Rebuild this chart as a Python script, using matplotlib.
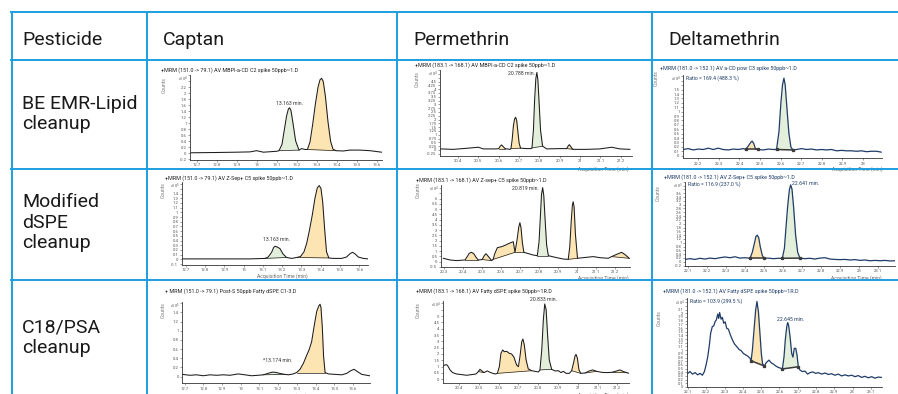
import numpy as np
import matplotlib.pyplot as plt
from matplotlib.lines import Line2D
from matplotlib.ticker import MultipleLocator, FuncFormatter

W, H, DPI = 898, 394, 100
plt.rcParams["font.family"] = ["Roboto", "DejaVu Sans"]

GRID_BLUE = "#1d9ee0"
FILL_GREEN = "#e3eedb"
FILL_ORANGE = "#fde4b3"
INK = "#1c1c1c"
NAVY = "#1f3c68"

COLUMN_LABELS = ["Pesticide", "Captan", "Permethrin", "Deltamethrin"]
ROW_LABELS = ["BE EMR-Lipid\ncleanup", "Modified\ndSPE\ncleanup", "C18/PSA\ncleanup"]

TITLES = [
    "+MRM (151.0 -> 79.1) AV MBPI-a-CD C2 spike 50ppb~1.D",
    "+MRM (183.1 -> 168.1) AV MBPI-a-CD C2 spike 50ppb~1.D",
    "+MRM (181.0 -> 152.1) AV a-CD pow C3 spike 50ppb~1.D",
    "+MRM (151.0 -> 79.1) AV Z-Sep+ C5 spike 50ppb~1.D",
    "+MRM (183.1 -> 168.1) AV Z-sep+ C5 spike 50ppb~1.D",
    "+MRM (181.0 -> 152.1) AV Z-Sep+ C5 spike 50ppb~1.D",
    "+ MRM (151.0 -> 79.1) Post-S 50ppb Fatty dSPE C1-3.D",
    "+MRM (183.1 -> 168.1) AV Fatty dSPE spike 50ppb~1R.D",
    "+MRM (181.0 -> 152.1) AV Fatty dSPE spike 50ppb~1R.D",
]

# ---- chromatogram traces: acquisition time (min) / counts -------------------
CAP_BE_T = [12.668, 12.798, 12.898, 12.965, 12.998, 13.032, 13.098, 13.110, 13.125, 13.137,
            13.148, 13.157, 13.163, 13.170, 13.180, 13.193, 13.210, 13.223, 13.240, 13.252,
            13.265, 13.278, 13.292, 13.305, 13.315, 13.323, 13.331, 13.342, 13.355, 13.368,
            13.380, 13.395, 13.432, 13.465, 13.515, 13.565, 13.623]
CAP_BE_Y = [0.02, 0.03, 0.04, 0.05, 0.09, 0.04, 0.07, 0.09, 0.30, 0.80,
            1.25, 1.48, 1.52, 1.42, 1.00, 0.42, 0.11, 0.16, 0.13, 0.13,
            0.38, 0.95, 1.65, 2.20, 2.45, 2.50, 2.40, 1.90, 1.05, 0.40,
            0.14, 0.09, 0.08, 0.11, 0.11, 0.09, 0.04]

PER_BE_T = [20.316, 20.378, 20.444, 20.501, 20.525, 20.591, 20.601, 20.608, 20.615, 20.623,
            20.632, 20.656, 20.661, 20.667, 20.673, 20.679, 20.684, 20.689, 20.695, 20.701,
            20.708, 20.738, 20.759, 20.764, 20.771, 20.777, 20.783, 20.788, 20.793, 20.799,
            20.806, 20.816, 20.836, 20.901, 20.934, 20.941, 20.947, 20.953, 20.960, 20.967,
            21.032, 21.097, 21.155, 21.195, 21.244]
PER_BE_Y = [0.07, 0.04, 0.11, 0.18, 0.07, 0.07, 0.09, 0.25, 0.33, 0.22,
            0.09, 0.04, 0.09, 0.70, 1.60, 2.05, 2.15, 1.95, 1.20, 0.45,
            0.12, 0.09, 0.09, 0.13, 1.30, 3.30, 4.70, 5.10, 4.60, 3.10,
            1.30, 0.25, 0.07, 0.09, 0.09, 0.25, 0.35, 0.25, 0.10, 0.04,
            0.04, 0.07, 0.18, 0.07, 0.04]

DEL_BE_T = [22.127, 22.151, 22.176, 22.200, 22.224, 22.249, 22.273, 22.297, 22.321, 22.346,
            22.370, 22.394, 22.418, 22.430, 22.443, 22.456, 22.462, 22.470, 22.478, 22.491,
            22.516, 22.540, 22.564, 22.580, 22.592, 22.601, 22.609, 22.616, 22.622, 22.630,
            22.640, 22.650, 22.660, 22.677, 22.702, 22.726, 22.750, 22.774, 22.799, 22.823,
            22.847, 22.872, 22.896, 22.920, 22.944, 22.969, 22.993, 23.017, 23.041, 23.066,
            23.088]
DEL_BE_Y = [0.14, 0.16, 0.13, 0.15, 0.14, 0.17, 0.14, 0.17, 0.14, 0.13,
            0.15, 0.14, 0.16, 0.14, 0.22, 0.31, 0.33, 0.27, 0.15, 0.14,
            0.13, 0.15, 0.14, 0.14, 0.55, 1.19, 1.61, 1.76, 1.61, 1.11,
            0.51, 0.19, 0.13, 0.14, 0.16, 0.14, 0.15, 0.13, 0.14, 0.13,
            0.14, 0.11, 0.12, 0.11, 0.11, 0.10, 0.11, 0.09, 0.10, 0.10,
            0.08]

CAP_MOD_T = [12.678, 12.773, 12.859, 12.946, 13.032, 13.110, 13.127, 13.145, 13.155, 13.163,
             13.175, 13.188, 13.205, 13.223, 13.249, 13.275, 13.295, 13.313, 13.327, 13.340,
             13.356, 13.370, 13.382, 13.392, 13.401, 13.410, 13.420, 13.430, 13.442, 13.465,
             13.508, 13.534, 13.552, 13.565, 13.577, 13.595, 13.621, 13.645]
CAP_MOD_Y = [0.01, 0.01, 0.01, 0.01, 0.01, 0.02, 0.05, 0.15, 0.25, 0.28,
             0.26, 0.23, 0.11, 0.04, 0.02, 0.04, 0.06, 0.16, 0.34, 0.59,
             0.94, 1.30, 1.52, 1.57, 1.51, 1.23, 0.66, 0.16, 0.03, 0.02,
             0.02, 0.05, 0.12, 0.15, 0.12, 0.05, 0.02, 0.01]

PER_MOD_T = [20.295, 20.330, 20.365, 20.409, 20.420, 20.432, 20.444, 20.456, 20.468, 20.479,
             20.500, 20.510, 20.520, 20.532, 20.550, 20.558, 20.566, 20.580, 20.603, 20.625,
             20.638, 20.655, 20.664, 20.673, 20.685, 20.693, 20.699, 20.705, 20.712, 20.720,
             20.769, 20.791, 20.800, 20.807, 20.813, 20.819, 20.825, 20.832, 20.840, 20.849,
             20.893, 20.928, 20.954, 20.962, 20.970, 20.976, 20.980, 20.985, 20.992, 21.003,
             21.033, 21.086, 21.121, 21.165, 21.183, 21.210, 21.236, 21.255, 21.276]
PER_MOD_Y = [0.32, 0.16, 0.10, 0.16, 0.45, 0.80, 0.89, 0.75, 0.40, 0.16,
             0.20, 0.55, 0.76, 0.50, 0.10, 0.22, 0.75, 1.33, 1.43, 1.59,
             1.71, 1.84, 1.90, 0.89, 2.20, 3.30, 3.71, 3.20, 1.80, 0.89,
             0.63, 0.57, 1.90, 4.30, 6.40, 7.05, 6.30, 4.00, 1.60, 0.57,
             0.38, 0.25, 0.22, 1.40, 3.90, 5.40, 5.71, 5.20, 2.60, 0.32,
             0.38, 0.48, 0.38, 0.32, 0.48, 0.70, 0.89, 0.65, 0.32]

DEL_MOD_T = [22.085, 22.111, 22.137, 22.164, 22.190, 22.216, 22.243, 22.269, 22.295, 22.322,
             22.348, 22.374, 22.401, 22.427, 22.439, 22.450, 22.458, 22.465, 22.473, 22.481,
             22.492, 22.502, 22.523, 22.550, 22.576, 22.597, 22.608, 22.616, 22.625, 22.634,
             22.641, 22.648, 22.657, 22.667, 22.678, 22.690, 22.716, 22.743, 22.769, 22.795,
             22.822, 22.848, 22.874, 22.901, 22.927, 22.953, 22.980, 23.006, 23.032, 23.059,
             23.085, 23.111, 23.137, 23.164, 23.188]
DEL_MOD_Y = [0.12, 0.16, 0.12, 0.18, 0.14, 0.19, 0.16, 0.21, 0.25, 0.21,
             0.26, 0.19, 0.21, 0.18, 0.49, 0.96, 1.32, 1.40, 1.26, 0.79,
             0.32, 0.18, 0.19, 0.16, 0.18, 0.18, 0.70, 1.75, 2.89, 3.77,
             4.04, 3.82, 2.81, 1.40, 0.49, 0.19, 0.16, 0.18, 0.14, 0.19,
             0.21, 0.14, 0.12, 0.11, 0.12, 0.09, 0.11, 0.07, 0.09, 0.05,
             0.07, 0.05, 0.07, 0.04, 0.05]

CAP_C18_T = [12.688, 12.729, 12.764, 12.800, 12.836, 12.871, 12.907, 12.943, 12.987, 13.023,
             13.058, 13.094, 13.120, 13.145, 13.160, 13.174, 13.190, 13.210, 13.235, 13.255,
             13.281, 13.299, 13.317, 13.335, 13.353, 13.365, 13.379, 13.392, 13.406, 13.417,
             13.424, 13.429, 13.436, 13.443, 13.451, 13.468, 13.504, 13.540, 13.566, 13.588,
             13.606, 13.624, 13.647, 13.688]
CAP_C18_Y = [0.05, 0.03, 0.04, 0.02, 0.04, 0.03, 0.04, 0.03, 0.06, 0.04,
             0.02, 0.03, 0.04, 0.07, 0.09, 0.10, 0.09, 0.07, 0.05, 0.04,
             0.06, 0.09, 0.16, 0.29, 0.47, 0.58, 0.76, 1.09, 1.42, 1.54,
             1.58, 1.51, 1.09, 0.44, 0.09, 0.06, 0.05, 0.04, 0.07, 0.13,
             0.16, 0.11, 0.05, 0.02]

PER_C18_T = [20.318, 20.329, 20.338, 20.346, 20.355, 20.368, 20.388, 20.414, 20.439, 20.464,
             20.486, 20.498, 20.506, 20.515, 20.526, 20.543, 20.560, 20.582, 20.594, 20.604,
             20.612, 20.621, 20.629, 20.641, 20.654, 20.666, 20.678, 20.691, 20.700, 20.708,
             20.717, 20.723, 20.730, 20.739, 20.750, 20.767, 20.784, 20.801, 20.809, 20.818,
             20.826, 20.833, 20.840, 20.848, 20.856, 20.868, 20.885, 20.902, 20.915, 20.927,
             20.941, 20.957, 20.969, 20.978, 20.986, 20.991, 20.998, 21.006, 21.015, 21.037,
             21.058, 21.075, 21.095, 21.121, 21.146, 21.171, 21.196, 21.213, 21.230, 21.247,
             21.258]
PER_C18_Y = [1.05, 1.13, 1.16, 1.00, 0.74, 0.53, 0.42, 0.37, 0.32, 0.37,
             0.42, 0.61, 0.79, 0.68, 0.53, 0.66, 0.53, 0.42, 0.47, 1.00,
             2.05, 2.32, 2.18, 2.21, 2.05, 2.00, 1.74, 1.13, 1.00, 1.79,
             2.97, 3.18, 2.71, 1.53, 0.82, 0.68, 0.63, 0.58, 0.74, 2.32,
             4.68, 5.95, 5.53, 3.37, 1.53, 0.79, 0.66, 0.68, 0.53, 0.63,
             0.47, 0.47, 0.68, 1.26, 1.84, 1.97, 1.66, 0.74, 0.47, 0.50,
             0.66, 0.74, 0.63, 0.55, 0.53, 0.55, 0.66, 0.74, 0.61, 0.53,
             0.47]

DEL_C18_T = [22.099, 22.111, 22.124, 22.139, 22.153, 22.166, 22.179, 22.190, 22.199, 22.208,
             22.217, 22.224, 22.233, 22.241, 22.248, 22.255, 22.263, 22.268, 22.273, 22.281,
             22.288, 22.295, 22.303, 22.312, 22.321, 22.332, 22.343, 22.354, 22.366, 22.379,
             22.390, 22.403, 22.416, 22.426, 22.439, 22.445, 22.452, 22.461, 22.470, 22.477,
             22.485, 22.492, 22.501, 22.508, 22.518, 22.525, 22.534, 22.543, 22.554, 22.567,
             22.580, 22.594, 22.607, 22.616, 22.625, 22.632, 22.640, 22.645, 22.650, 22.658,
             22.667, 22.674, 22.681, 22.689, 22.696, 22.703, 22.712, 22.725, 22.740, 22.754,
             22.767, 22.782, 22.798, 22.812, 22.831, 22.849, 22.867, 22.885, 22.903, 22.922,
             22.940, 22.958, 22.977, 22.995, 23.013, 23.031, 23.049, 23.067, 23.086, 23.104,
             23.122, 23.140, 23.157]
DEL_C18_Y = [0.37, 0.42, 0.35, 0.39, 0.33, 0.37, 0.32, 0.42, 0.60, 0.82,
             1.14, 1.46, 1.64, 1.66, 1.77, 1.82, 1.98, 1.86, 2.02, 1.84,
             1.89, 1.73, 1.77, 1.59, 1.57, 1.41, 1.28, 1.17, 1.10, 1.02,
             0.99, 0.91, 0.87, 0.84, 0.78, 0.71, 1.00, 1.55, 2.09, 2.32,
             2.05, 1.55, 0.91, 0.62, 0.57, 0.64, 0.69, 0.73, 0.66, 0.62,
             0.57, 0.53, 0.51, 0.49, 0.82, 1.28, 1.64, 1.75, 1.68, 1.37,
             0.91, 0.81, 1.05, 1.05, 0.87, 0.55, 0.46, 0.42, 0.43, 0.35,
             0.39, 0.41, 0.37, 0.39, 0.35, 0.38, 0.34, 0.36, 0.32, 0.35,
             0.30, 0.33, 0.30, 0.32, 0.28, 0.31, 0.26, 0.29, 0.25, 0.28,
             0.24, 0.27, 0.26]

# integrated peak windows (start, end, kind)
CAP_BE_PEAKS = [(13.110, 13.210, "g"), (13.252, 13.395, "o")]
PER_BE_PEAKS = [(20.601, 20.632, "o"), (20.661, 20.708, "o"), (20.764, 20.816, "g"),
                (20.934, 20.967, "o")]
DEL_BE_PEAKS = [(22.430, 22.491, "o"), (22.580, 22.660, "g")]
CAP_MOD_PEAKS = [(13.110, 13.223, "g"), (13.275, 13.442, "o")]
PER_MOD_PEAKS = [(20.409, 20.479, "o"), (20.500, 20.550, "o"), (20.558, 20.673, "o"),
                 (20.673, 20.720, "o"), (20.791, 20.849, "g"), (20.954, 21.003, "o"),
                 (21.183, 21.276, "o")]
DEL_MOD_PEAKS = [(22.427, 22.502, "o"), (22.597, 22.690, "g")]
CAP_C18_PEAKS = [(13.120, 13.235, "g"), (13.299, 13.451, "o")]
PER_C18_PEAKS = [(20.498, 20.526, "o"), (20.594, 20.767, "o"), (20.809, 20.868, "g"),
                 (20.969, 21.015, "o"), (21.037, 21.095, "o"), (21.171, 21.247, "o")]
DEL_C18_PEAKS = [(22.445, 22.518, "o"), (22.616, 22.703, "g")]

# peak retention-time labels: (text, time, counts, alignment)
PEAK_LABELS = [
    ("13.163 min.", 13.163, 1.67, "center"),
    ("20.788 min.", 20.781, 5.04, "right"),
    None,
    ("13.163 min.", 13.170, 0.43, "center"),
    ("20.819 min.", 20.797, 6.98, "right"),
    ("22.641 min.", 22.648, 4.12, "left"),
    ("*13.174 min.", 13.200, 0.36, "center"),
    ("20.833 min.", 20.826, 6.32, "center"),
    ("22.645 min.", 22.660, 1.84, "center"),
]
RATIO_LABELS = {2: "Ratio = 169.4 (488.3 %)", 5: "Ratio = 116.9 (237.0 %)",
                8: "Ratio = 103.9 (299.5 %)"}
EXPONENTS = [4, 4, 4, 5, 4, 3, 5, 4, 4]

TRACES = [(CAP_BE_T, CAP_BE_Y, CAP_BE_PEAKS), (PER_BE_T, PER_BE_Y, PER_BE_PEAKS),
          (DEL_BE_T, DEL_BE_Y, DEL_BE_PEAKS), (CAP_MOD_T, CAP_MOD_Y, CAP_MOD_PEAKS),
          (PER_MOD_T, PER_MOD_Y, PER_MOD_PEAKS), (DEL_MOD_T, DEL_MOD_Y, DEL_MOD_PEAKS),
          (CAP_C18_T, CAP_C18_Y, CAP_C18_PEAKS), (PER_C18_T, PER_C18_Y, PER_C18_PEAKS),
          (DEL_C18_T, DEL_C18_Y, DEL_C18_PEAKS)]

# panel geometry in pixels: (left, top, right, bottom), limits, tick step,
# title anchor, "Counts" / x-label positions in axes fractions
LAYOUT = [
    dict(rect=(190, 74.7, 382, 160), xlim=(12.665, 13.625), ylim=(-0.22, 2.62), ystep=0.2,
         title=(161, 70), ylab=(-0.12, 0.88), xlab=None),
    dict(rect=(440, 70, 631.7, 155.9), xlim=(20.313, 21.253), ylim=(-0.39, 5.26), ystep=0.25,
         title=(415, 65), ylab=(-0.104, 0.90), xlab=(0.85, -0.116)),
    dict(rect=(683, 75.1, 882, 158.3), xlim=(22.126, 23.092), ylim=(-0.06, 1.83), ystep=0.1,
         title=(660, 68), ylab=(-0.12, 0.965), xlab=(0.874, -0.093)),
    dict(rect=(181.7, 181.8, 368.3, 265), xlim=(12.678, 13.647), ylim=(-0.12, 1.65), ystep=0.1,
         title=(165, 178), ylab=(-0.084, 0.90), xlab=(0.537, -0.096)),
    dict(rect=(440.7, 184.7, 630, 266.9), xlim=(20.281, 21.280), ylim=(-0.5, 7.33), ystep=0.5,
         title=(416, 180), ylab=(-0.104, 0.94), xlab=(0.857, -0.10)),
    dict(rect=(685, 181.7, 895, 265.7), xlim=(22.085, 23.190), ylim=(-0.21, 4.21), ystep=0.2,
         title=(664, 177), ylab=(-0.114, 0.865), xlab=(0.814, -0.11)),
    dict(rect=(182.3, 301.5, 370, 383.3), xlim=(12.688, 13.691), ylim=(-0.145, 1.64), ystep=0.2,
         title=(165, 291), ylab=(-0.09, 0.90), xlab=(0.53, -0.12)),
    dict(rect=(442.7, 300.7, 629.3, 382.6), xlim=(20.318, 21.260), ylim=(-0.26, 6.21), ystep=0.5,
         title=(416, 291), ylab=(-0.118, 0.89), xlab=(0.86, -0.12)),
    dict(rect=(686.7, 298.2, 881.7, 387), xlim=(22.093, 23.159), ylim=(0.0, 2.41), ystep=0.1,
         title=(663, 291), ylab=(-0.13, 0.78), xlab=(0.874, -0.09)),
]


def fig_xy(x, y):
    return x / W, 1 - y / H


def tick_fmt(v, _pos=None):
    v = round(v, 3)
    return f"{0.0 if v == 0 else v:g}"


def y_formatter(top, px_per_unit):
    # leave room for the exponent tag at the very top of the axis
    def fmt(v, pos):
        if (top - v) * px_per_unit < 10.5:
            return ""
        return tick_fmt(v)
    return FuncFormatter(fmt)


def shade(ax, t, y, t0, t1, color, edge, delta):
    t, y = np.asarray(t), np.asarray(y)
    m = (t >= t0 - 1e-6) & (t <= t1 + 1e-6)
    ts, ys = t[m], y[m]
    base = np.interp(ts, [ts[0], ts[-1]], [ys[0], ys[-1]])
    ax.fill_between(ts, ys, base, color=color, lw=0, zorder=1)
    if delta:
        ax.plot([ts[0], ts[-1]], [ys[0], ys[-1]], color="#3a3a3a", lw=1.1,
                marker="s", ms=1.4, zorder=3)
    else:
        ax.plot([ts[0], ts[-1]], [ys[0], ys[-1]], color=edge, lw=0.5, zorder=3)


fig = plt.figure(figsize=(W / DPI, H / DPI), dpi=DPI, facecolor="white")

# table grid
for yy in (12, 60, 169, 280):
    fig.add_artist(Line2D([fig_xy(11, 0)[0], 1.0], [fig_xy(0, yy)[1]] * 2,
                          transform=fig.transFigure, color=GRID_BLUE, lw=1.4))
for xx in (11.5, 147, 397, 652):
    fig.add_artist(Line2D([fig_xy(xx, 0)[0]] * 2, [fig_xy(0, 12)[1], 0.0],
                          transform=fig.transFigure, color=GRID_BLUE, lw=1.4))

for label, x in zip(COLUMN_LABELS, (22, 163, 413, 668)):
    fig.text(*fig_xy(x, 40), label, fontsize=14, color="#1a1a1a", va="center", ha="left")
for label, y in zip(ROW_LABELS, (114, 222.5, 337.5)):
    fig.text(*fig_xy(22, y), label, fontsize=14, color="#1a1a1a", va="center", ha="left",
             linespacing=1.18)

for i, (lay, (t, y, peaks)) in enumerate(zip(LAYOUT, TRACES)):
    delta = i % 3 == 2
    line_color = NAVY if delta else INK
    L, T, R, B = lay["rect"]
    ax = fig.add_axes([L / W, 1 - B / H, (R - L) / W, (B - T) / H])
    ax.set_facecolor("none")

    for t0, t1, kind in peaks:
        shade(ax, t, y, t0, t1, FILL_GREEN if kind == "g" else FILL_ORANGE, line_color, delta)
    ax.plot(t, y, color=line_color, lw=0.9 if delta else 0.75, zorder=2)

    y0, y1 = lay["ylim"]
    ax.set_xlim(*lay["xlim"])
    ax.set_ylim(y0, y1)
    ax.xaxis.set_major_locator(MultipleLocator(0.1))
    ax.yaxis.set_major_locator(MultipleLocator(lay["ystep"]))
    ax.xaxis.set_major_formatter(FuncFormatter(tick_fmt))
    ax.yaxis.set_major_formatter(y_formatter(y1, (B - T) / (y1 - y0)))
    ax.tick_params(labelsize=3, length=1.5, width=0.4, pad=1, colors="#555555")
    for side in ("top", "right"):
        ax.spines[side].set_visible(False)
    for side in ("left", "bottom"):
        ax.spines[side].set_linewidth(0.6)
        ax.spines[side].set_color("#333333")

    ax.set_ylabel("Counts", fontsize=3.6, color="#777777")
    ax.yaxis.set_label_coords(*lay["ylab"])
    if lay["xlab"] is not None:
        ax.set_xlabel("Acquisition Time (min)", fontsize=3.6, color="#666666")
        ax.xaxis.set_label_coords(*lay["xlab"])

    ax.text(-0.012, 1.0, f"x10$^{{{EXPONENTS[i]}}}$", transform=ax.transAxes,
            fontsize=2.8, color="#555555", ha="right", va="top")

    tx, ty = lay["title"]
    fig.text(*fig_xy(tx, ty), TITLES[i], fontsize=3.9, va="center", ha="left",
             color=NAVY if delta else "#222222")

    if i in RATIO_LABELS:
        ax.text(0.015, 1.0, RATIO_LABELS[i], transform=ax.transAxes, fontsize=3.7,
                color=NAVY, va="top", ha="left")
    if PEAK_LABELS[i] is not None:
        text, xt, yt, ha = PEAK_LABELS[i]
        ax.text(xt, yt, text, fontsize=3.7, va="center", ha=ha,
                color=NAVY if delta else "#333333", clip_on=False)

fig.savefig("out.png", dpi=DPI, facecolor="white")
